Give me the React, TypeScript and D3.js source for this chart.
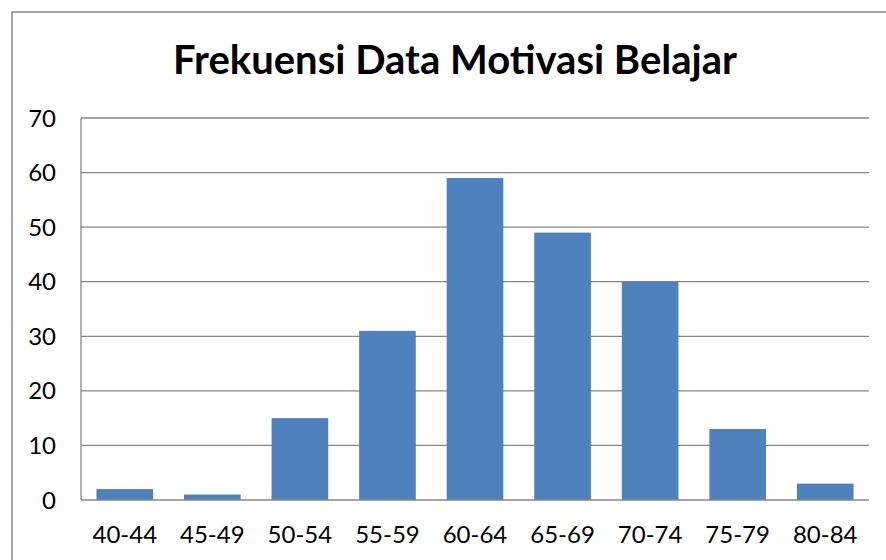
import { useEffect, useRef } from 'react'
import * as d3 from 'd3'

const categories = ['40-44', '45-49', '50-54', '55-59', '60-64', '65-69', '70-74', '75-79', '80-84']
const frequencies = [2, 1, 15, 31, 59, 49, 40, 13, 3]
const yTicks = [0, 10, 20, 30, 40, 50, 60, 70]
const TITLE = 'Frekuensi Data Motivasi Belajar'

const WIDTH = 886
const HEIGHT = 560
const PLOT = { left: 81, top: 118, right: 869, bottom: 500 }
const BAR_COLOR = '#4F81BD'
const GRID_COLOR = '#878787'
const FONT = 'Lato, "Open Sans", sans-serif'

export default function App() {
  const svgRef = useRef<SVGSVGElement>(null)

  useEffect(() => {
    const svg = d3.select(svgRef.current!)
    svg.selectAll('*').remove()

    const x = d3.scaleBand<string>()
      .domain(categories)
      .range([PLOT.left, PLOT.right])
      .paddingInner(0.353)
      .paddingOuter(0.1765)
    const y = d3.scaleLinear([0, 70], [PLOT.bottom, PLOT.top])

    // chart frame (runs off the right and bottom edges)
    svg.append('rect')
      .attr('x', 12).attr('y', 12)
      .attr('width', 900).attr('height', 600)
      .attr('fill', '#fff')
      .attr('stroke', GRID_COLOR).attr('stroke-width', 1.5)

    // title
    svg.append('text')
      .attr('x', 455).attr('y', 74)
      .attr('text-anchor', 'middle')
      .attr('font-family', FONT).attr('font-weight', 700).attr('font-size', 40)
      .attr('fill', '#000')
      .text(TITLE)

    // grid
    const g = svg.append('g')
    g.selectAll('line.grid')
      .data(yTicks.filter(t => t > 0))
      .join('line')
      .attr('class', 'grid')
      .attr('x1', PLOT.left).attr('x2', PLOT.right)
      .attr('y1', d => y(d)).attr('y2', d => y(d))
      .attr('stroke', GRID_COLOR).attr('stroke-width', 1.3)

    // bars
    g.selectAll('rect.bar')
      .data(frequencies)
      .join('rect')
      .attr('class', 'bar')
      .attr('x', (_, i) => x(categories[i])!)
      .attr('width', x.bandwidth())
      .attr('y', d => y(d))
      .attr('height', d => y(0) - y(d))
      .attr('fill', BAR_COLOR)

    // axes
    g.append('line')
      .attr('x1', PLOT.left).attr('x2', PLOT.left)
      .attr('y1', PLOT.top).attr('y2', PLOT.bottom)
      .attr('stroke', GRID_COLOR).attr('stroke-width', 1.3)
    g.append('line')
      .attr('x1', PLOT.left).attr('x2', PLOT.right)
      .attr('y1', y(0)).attr('y2', y(0))
      .attr('stroke', GRID_COLOR).attr('stroke-width', 1.3)

    g.selectAll('text.ytick')
      .data(yTicks)
      .join('text')
      .attr('class', 'ytick')
      .attr('x', 56).attr('y', d => y(d))
      .attr('dy', '0.36em')
      .attr('text-anchor', 'end')
      .attr('font-family', FONT).attr('font-size', 24).attr('fill', '#000')
      .text(d => d)

    g.selectAll('text.xtick')
      .data(categories)
      .join('text')
      .attr('class', 'xtick')
      .attr('x', d => x(d)! + x.bandwidth() / 2)
      .attr('y', 543)
      .attr('text-anchor', 'middle')
      .attr('font-family', FONT).attr('font-size', 24).attr('fill', '#000')
      .text(d => d)
  }, [])

  return (
    <svg
      ref={svgRef}
      width={WIDTH}
      height={HEIGHT}
      style={{ position: 'fixed', left: 0, top: 0, background: '#fff' }}
    />
  )
}
